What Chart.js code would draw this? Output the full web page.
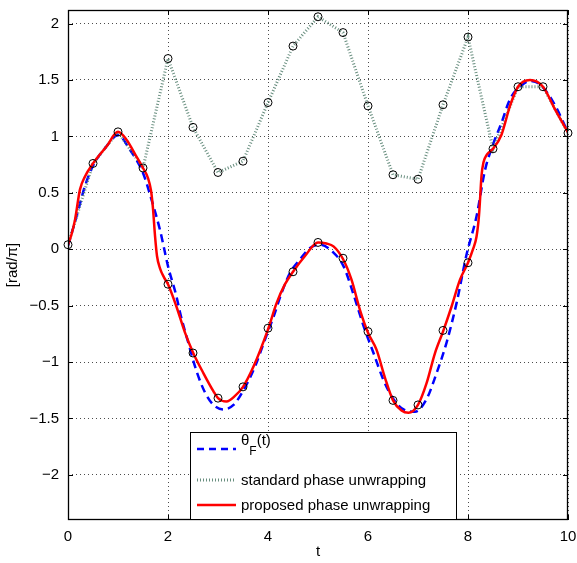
<!DOCTYPE html>
<html>
<head>
<meta charset="utf-8">
<script src="https://cdn.jsdelivr.net/npm/chart.js@4.4.1/dist/chart.umd.min.js"></script>
<style>
  html, body { margin: 0; padding: 0; background: #fff; }
  #wrap { width: 577px; height: 563px; }
</style>
</head>
<body>
<div id="wrap"><canvas id="phaseChart" width="577" height="563"></canvas></div>
<script>
// sample instants and the wrapped samples after plain unwrapping
const sampleT = [0, 0.5, 1, 1.5, 2, 2.5, 3, 3.5, 4, 4.5, 5, 5.5, 6, 6.5, 7, 7.5, 8, 8.5, 9, 9.5, 10];
const standardPhase = [0.04, 0.76, 1.04, 0.72, 1.69, 1.08, 0.68, 0.78, 1.30, 1.80, 2.06, 1.92, 1.27, 0.66, 0.62, 1.28, 1.88, 0.89, 1.44, 1.44, 1.03];

// samples where the proposed method moves them down
const proposedT = [2, 2.5, 3, 3.5, 4, 4.5, 5, 5.5, 6, 6.5, 7, 7.5, 8];
const proposedSamples = [-0.31, -0.92, -1.32, -1.22, -0.70, -0.20, 0.06, -0.08, -0.73, -1.34, -1.38, -0.72, -0.12];

// true phase theta_F(t)
const thetaT = [0, 0.17, 0.34, 0.5, 0.75, 1.0, 1.24, 1.5, 1.67, 1.84, 2.0, 2.17, 2.24, 2.4, 2.57, 2.74, 2.91, 3.11, 3.31, 3.51, 3.74, 3.94, 4.11, 4.27, 4.44, 4.64, 4.84, 5.04, 5.31, 5.51, 5.71, 5.91, 6.11, 6.31, 6.51, 6.71, 6.94, 7.17, 7.37, 7.57, 7.77, 7.97, 8.17, 8.34, 8.51, 8.67, 8.84, 9.04, 9.24, 9.44, 9.71, 10];
const thetaF = [0.03, 0.29, 0.56, 0.74, 0.90, 1.01, 0.88, 0.675, 0.44, 0.17, -0.15, -0.42, -0.56, -0.82, -1.08, -1.27, -1.38, -1.42, -1.38, -1.25, -1.04, -0.80, -0.60, -0.39, -0.21, -0.09, 0.01, 0.04, -0.03, -0.15, -0.40, -0.68, -0.92, -1.16, -1.33, -1.42, -1.44, -1.33, -1.10, -0.83, -0.48, -0.05, 0.29, 0.70, 0.94, 1.12, 1.33, 1.44, 1.49, 1.46, 1.30, 1.035];

// reconstructed phase from the proposed unwrapping
const unwrapT = [0, 0.07, 0.14, 0.24, 0.34, 0.5, 0.77, 1.0, 1.17, 1.37, 1.5, 1.6, 1.66, 1.7, 1.74, 1.78, 1.84, 1.92, 2.0, 2.17, 2.34, 2.5, 2.71, 2.91, 3.0, 3.17, 3.34, 3.5, 3.71, 4.0, 4.17, 4.34, 4.5, 4.74, 5.0, 5.17, 5.31, 5.5, 5.67, 5.84, 6.0, 6.17, 6.34, 6.5, 6.67, 6.81, 7.0, 7.17, 7.34, 7.5, 7.67, 7.84, 8.0, 8.1, 8.17, 8.22, 8.245, 8.27, 8.31, 8.38, 8.5, 8.67, 8.84, 9.0, 9.24, 9.5, 9.74, 10];
const unwrapY = [0.04, 0.13, 0.26, 0.53, 0.645, 0.76, 0.91, 1.04, 0.97, 0.82, 0.72, 0.63, 0.52, 0.36, 0.12, -0.06, -0.17, -0.25, -0.31, -0.51, -0.74, -0.915, -1.10, -1.26, -1.32, -1.35, -1.30, -1.22, -1.04, -0.71, -0.48, -0.31, -0.20, -0.06, 0.06, 0.05, 0.025, -0.087, -0.27, -0.54, -0.74, -0.89, -1.14, -1.34, -1.43, -1.45, -1.38, -1.19, -0.92, -0.73, -0.51, -0.27, -0.12, 0.0, 0.11, 0.30, 0.47, 0.65, 0.77, 0.84, 0.89, 1.015, 1.27, 1.44, 1.50, 1.44, 1.24, 1.035];

const xTicks = [0, 2, 4, 6, 8, 10];
const yTicks = [-2, -1.5, -1, -0.5, 0, 0.5, 1, 1.5, 2];

const FONT = "'Liberation Sans', Arial, Helvetica, sans-serif";
const BLUE = '#0000ff';
const RED = '#ff0000';
const DOTTED = 'rgba(78, 122, 104, 0.85)';

function pairs(xs, ys) {
    return xs.map((x, i) => ({ x: x, y: ys[i] }));
}

function minus(v) {
    return v < 0 ? '\u2212' + Math.abs(v) : String(v);
}

// box, inward ticks and the legend are drawn here
const framePlugin = {
    id: 'frame',
    afterDatasetsDraw(chart) {
        const { ctx, chartArea: a, scales: { x, y } } = chart;
        ctx.save();
        ctx.strokeStyle = '#000';
        ctx.lineWidth = 1;
        ctx.beginPath();
        xTicks.forEach(v => {
            const px = Math.round(x.getPixelForValue(v)) + 0.5;
            ctx.moveTo(px, a.bottom); ctx.lineTo(px, a.bottom - 5);
            ctx.moveTo(px, a.top); ctx.lineTo(px, a.top + 5);
        });
        yTicks.forEach(v => {
            const py = Math.round(y.getPixelForValue(v)) + 0.5;
            ctx.moveTo(a.left, py); ctx.lineTo(a.left + 5, py);
            ctx.moveTo(a.right, py); ctx.lineTo(a.right - 5, py);
        });
        ctx.stroke();
        ctx.lineWidth = 1.3;
        ctx.strokeRect(a.left + 0.5, a.top + 0.5, a.right - a.left - 1, a.bottom - a.top - 1);

        // legend
        const lx = 190, ly = 432, lw = 266, lh = 87;
        ctx.fillStyle = '#fff';
        ctx.fillRect(lx, ly, lw, lh);
        ctx.lineWidth = 1;
        ctx.strokeStyle = '#000';
        ctx.strokeRect(lx + 0.5, ly + 0.5, lw, lh);

        const x0 = 197, x1 = 236, tx = 241;
        ctx.lineWidth = 2.5;
        ctx.strokeStyle = BLUE;
        ctx.setLineDash([7, 5]);
        ctx.beginPath(); ctx.moveTo(x0, 449); ctx.lineTo(x1, 449); ctx.stroke();

        ctx.lineWidth = 3;
        ctx.strokeStyle = DOTTED;
        ctx.setLineDash([1, 2]);
        ctx.beginPath(); ctx.moveTo(x0, 480); ctx.lineTo(x1, 480); ctx.stroke();

        ctx.lineWidth = 2.5;
        ctx.strokeStyle = RED;
        ctx.setLineDash([]);
        ctx.beginPath(); ctx.moveTo(x0, 505); ctx.lineTo(x1, 505); ctx.stroke();

        ctx.fillStyle = '#000';
        ctx.textAlign = 'left';
        ctx.textBaseline = 'alphabetic';
        ctx.font = '15px ' + FONT;
        ctx.fillText('\u03B8', tx, 445);
        const wTheta = ctx.measureText('\u03B8').width;
        ctx.font = '12px ' + FONT;
        ctx.fillText('F', tx + wTheta, 455);
        const wF = ctx.measureText('F').width;
        ctx.font = '15px ' + FONT;
        ctx.fillText('(t)', tx + wTheta + wF, 445);
        ctx.fillText('standard phase unwrapping', tx, 485);
        ctx.fillText('proposed phase unwrapping', tx, 510);
        ctx.restore();
    }
};

Chart.defaults.font.family = FONT;
Chart.defaults.font.size = 15;
Chart.defaults.color = '#000';

const ctx = document.getElementById('phaseChart').getContext('2d');
const phaseChart = new Chart(ctx, {
    type: 'scatter',
    data: {
        datasets: [{
            label: 'samples',
            data: pairs(sampleT, standardPhase),
            showLine: false,
            pointStyle: 'circle',
            pointRadius: 4,
            pointBorderWidth: 1,
            pointBorderColor: '#000',
            pointBackgroundColor: 'rgba(0,0,0,0)',
            clip: false
        }, {
            label: 'shifted samples',
            data: pairs(proposedT, proposedSamples),
            showLine: false,
            pointStyle: 'circle',
            pointRadius: 4,
            pointBorderWidth: 1,
            pointBorderColor: '#000',
            pointBackgroundColor: 'rgba(0,0,0,0)',
            clip: false
        }, {
            label: 'proposed phase unwrapping',
            data: pairs(unwrapT, unwrapY),
            showLine: true,
            borderColor: RED,
            borderWidth: 2.5,
            pointRadius: 0,
            cubicInterpolationMode: 'monotone'
        }, {
            label: 'standard phase unwrapping',
            data: pairs(sampleT, standardPhase),
            showLine: true,
            borderColor: DOTTED,
            borderWidth: 3,
            borderDash: [1, 2],
            pointRadius: 0,
            tension: 0
        }, {
            label: 'theta_F(t)',
            data: pairs(thetaT, thetaF),
            showLine: true,
            borderColor: BLUE,
            borderWidth: 2.5,
            borderDash: [8, 5],
            pointRadius: 0,
            cubicInterpolationMode: 'monotone'
        }]
    },
    options: {
        responsive: false,
        animation: false,
        events: [],
        layout: {
            padding: { top: 10, right: 9, left: 0, bottom: 0 }
        },
        plugins: {
            legend: { display: false },
            tooltip: { enabled: false }
        },
        scales: {
            x: {
                type: 'linear',
                min: 0,
                max: 10,
                afterBuildTicks: scale => { scale.ticks = xTicks.map(v => ({ value: v })); },
                afterFit: scale => {
                    scale.height = 43;
                    scale.paddingLeft = 0;
                    scale.paddingRight = 0;
                },
                grid: { color: 'rgba(0,0,0,0.7)', lineWidth: 1, drawTicks: false },
                border: { display: false, dash: [1, 3] },
                ticks: { padding: 8, maxRotation: 0, callback: v => minus(v) },
                title: { display: true, text: 't', padding: { top: 0, bottom: 2 } }
            },
            y: {
                type: 'linear',
                min: -2.4,
                max: 2.12,
                afterBuildTicks: scale => { scale.ticks = yTicks.map(v => ({ value: v })); },
                afterFit: scale => {
                    scale.width = 68;
                    scale.paddingTop = 0;
                    scale.paddingBottom = 0;
                },
                grid: { color: 'rgba(0,0,0,0.7)', lineWidth: 1, drawTicks: false },
                border: { display: false, dash: [1, 3] },
                ticks: { padding: 9, callback: v => minus(v) },
                title: { display: true, text: '[rad/\u03C0]', padding: { top: 4, bottom: 0 } }
            }
        }
    },
    plugins: [framePlugin]
});
</script>
</body>
</html>
